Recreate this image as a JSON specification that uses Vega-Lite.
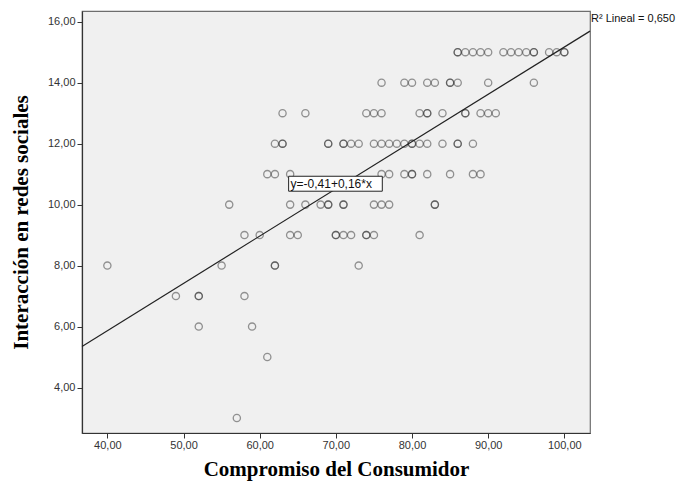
{
  "$schema": "https://vega.github.io/schema/vega-lite/v6.json",
  "width": 508,
  "height": 422,
  "autosize": {"type": "none"},
  "padding": {"left": 82, "top": 11, "right": 91, "bottom": 51},
  "background": "white",
  "config": {
    "view": {"fill": "#f0f0f0", "stroke": "#6e6e6e", "strokeWidth": 1.2},
    "axis": {
      "grid": false,
      "domainColor": "#333333",
      "domainWidth": 1.2,
      "tickColor": "#333333",
      "tickSize": 5,
      "labelFont": "Liberation Sans",
      "labelFontSize": 11,
      "labelColor": "#333333",
      "titleFont": "Liberation Serif",
      "titleFontWeight": "bold",
      "titleFontSize": 21,
      "titleColor": "#000000"
    }
  },
  "datasets": {
    "pts": [
      {"x": 86, "y": 15}, {"x": 86, "y": 15}, {"x": 87, "y": 15}, {"x": 88, "y": 15}, {"x": 89, "y": 15}, {"x": 90, "y": 15},
      {"x": 92, "y": 15}, {"x": 93, "y": 15}, {"x": 94, "y": 15}, {"x": 95, "y": 15}, {"x": 96, "y": 15}, {"x": 96, "y": 15},
      {"x": 98, "y": 15}, {"x": 99, "y": 15}, {"x": 100, "y": 15}, {"x": 100, "y": 15},
      {"x": 76, "y": 14}, {"x": 79, "y": 14}, {"x": 80, "y": 14}, {"x": 82, "y": 14}, {"x": 83, "y": 14},
      {"x": 85, "y": 14}, {"x": 85, "y": 14}, {"x": 86, "y": 14}, {"x": 90, "y": 14}, {"x": 96, "y": 14},
      {"x": 63, "y": 13}, {"x": 66, "y": 13}, {"x": 74, "y": 13}, {"x": 75, "y": 13}, {"x": 76, "y": 13},
      {"x": 81, "y": 13}, {"x": 82, "y": 13}, {"x": 82, "y": 13}, {"x": 84, "y": 13}, {"x": 87, "y": 13}, {"x": 87, "y": 13},
      {"x": 89, "y": 13}, {"x": 90, "y": 13}, {"x": 91, "y": 13},
      {"x": 62, "y": 12}, {"x": 63, "y": 12}, {"x": 63, "y": 12}, {"x": 69, "y": 12}, {"x": 69, "y": 12},
      {"x": 71, "y": 12}, {"x": 71, "y": 12}, {"x": 72, "y": 12}, {"x": 73, "y": 12}, {"x": 75, "y": 12},
      {"x": 76, "y": 12}, {"x": 77, "y": 12}, {"x": 78, "y": 12}, {"x": 79, "y": 12}, {"x": 80, "y": 12}, {"x": 80, "y": 12},
      {"x": 81, "y": 12}, {"x": 82, "y": 12}, {"x": 84, "y": 12}, {"x": 86, "y": 12}, {"x": 86, "y": 12}, {"x": 88, "y": 12},
      {"x": 61, "y": 11}, {"x": 62, "y": 11}, {"x": 64, "y": 11}, {"x": 76, "y": 11}, {"x": 77, "y": 11},
      {"x": 79, "y": 11}, {"x": 80, "y": 11}, {"x": 80, "y": 11}, {"x": 82, "y": 11}, {"x": 85, "y": 11},
      {"x": 88, "y": 11}, {"x": 89, "y": 11},
      {"x": 56, "y": 10}, {"x": 64, "y": 10}, {"x": 66, "y": 10}, {"x": 68, "y": 10}, {"x": 69, "y": 10}, {"x": 69, "y": 10},
      {"x": 71, "y": 10}, {"x": 71, "y": 10}, {"x": 75, "y": 10}, {"x": 76, "y": 10}, {"x": 77, "y": 10},
      {"x": 83, "y": 10}, {"x": 83, "y": 10},
      {"x": 58, "y": 9}, {"x": 60, "y": 9}, {"x": 64, "y": 9}, {"x": 65, "y": 9}, {"x": 70, "y": 9}, {"x": 70, "y": 9},
      {"x": 71, "y": 9}, {"x": 72, "y": 9}, {"x": 74, "y": 9}, {"x": 74, "y": 9}, {"x": 75, "y": 9}, {"x": 81, "y": 9},
      {"x": 40, "y": 8}, {"x": 55, "y": 8}, {"x": 62, "y": 8}, {"x": 62, "y": 8}, {"x": 73, "y": 8},
      {"x": 49, "y": 7}, {"x": 52, "y": 7}, {"x": 52, "y": 7}, {"x": 58, "y": 7},
      {"x": 52, "y": 6}, {"x": 59, "y": 6},
      {"x": 61, "y": 5},
      {"x": 57, "y": 3}
    ],
    "fit": [{"x1": 36.67, "y1": 5.35, "x2": 103.37, "y2": 15.69}],
    "eqbox": [{"x1": 63.8, "x2": 76.1, "y1": 10.44, "y2": 10.93, "xt": 64.05, "yt": 10.685, "label": "y=-0,41+0,16*x"}],
    "r2": [{"x": 103.37, "y": 16.08, "label": "R² Lineal = 0,650"}]
  },
  "layer": [
    {
      "data": {"name": "pts"},
      "mark": {"type": "point", "shape": "circle", "filled": false, "size": 52, "stroke": "#333333", "strokeOpacity": 0.72, "strokeWidth": 1.3},
      "encoding": {
        "x": {
          "field": "x", "type": "quantitative",
          "scale": {"domain": [36.67, 103.37], "nice": false, "zero": false},
          "axis": {
            "values": [40, 50, 60, 70, 80, 90, 100],
            "labelExpr": "replace(format(datum.value, '.2f'), '.', ',')",
            "title": "Compromiso del Consumidor",
            "labelPadding": 1,
            "titlePadding": 8
          }
        },
        "y": {
          "field": "y", "type": "quantitative",
          "scale": {"domain": [2.51, 16.35], "nice": false, "zero": false},
          "axis": {
            "values": [4, 6, 8, 10, 12, 14, 16],
            "labelExpr": "replace(format(datum.value, '.2f'), '.', ',')",
            "title": "Interacción en redes sociales",
            "labelPadding": 2,
            "titlePadding": 16
          }
        }
      }
    },
    {
      "data": {"name": "fit"},
      "mark": {"type": "rule", "color": "#222222", "strokeWidth": 1.2},
      "encoding": {
        "x": {"field": "x1", "type": "quantitative"},
        "y": {"field": "y1", "type": "quantitative"},
        "x2": {"field": "x2"},
        "y2": {"field": "y2"}
      }
    },
    {
      "data": {"name": "eqbox"},
      "mark": {"type": "rect", "fill": "white", "stroke": "#222222", "strokeWidth": 1},
      "encoding": {
        "x": {"field": "x1", "type": "quantitative"},
        "x2": {"field": "x2"},
        "y": {"field": "y1", "type": "quantitative"},
        "y2": {"field": "y2"}
      }
    },
    {
      "data": {"name": "eqbox"},
      "mark": {"type": "text", "align": "left", "baseline": "middle", "font": "Liberation Sans", "fontSize": 12, "color": "#111111"},
      "encoding": {
        "x": {"field": "xt", "type": "quantitative"},
        "y": {"field": "yt", "type": "quantitative"},
        "text": {"field": "label"}
      }
    },
    {
      "data": {"name": "r2"},
      "mark": {"type": "text", "align": "left", "baseline": "middle", "dx": 1, "font": "Liberation Sans", "fontSize": 11, "color": "#111111"},
      "encoding": {
        "x": {"field": "x", "type": "quantitative"},
        "y": {"field": "y", "type": "quantitative"},
        "text": {"field": "label"}
      }
    }
  ]
}
